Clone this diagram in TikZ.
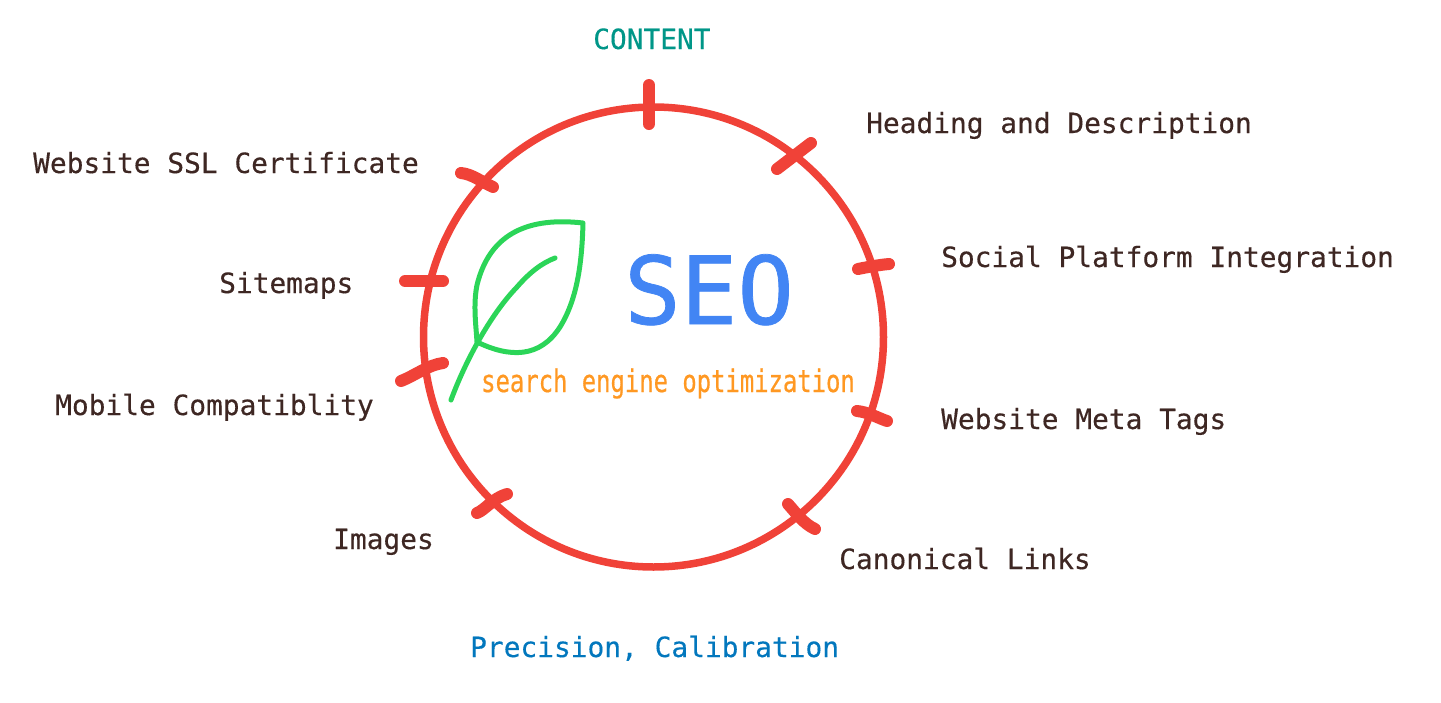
\documentclass[tikz,border=0pt]{standalone}
\usepackage{fontspec}
\setmonofont[FakeBold=0.35]{DejaVu Sans Mono}
\newfontfamily\bigmono[FakeBold=0.8]{DejaVu Sans Mono}
\newfontfamily\narrowmono[FakeStretch=0.77,FakeBold=0.5]{DejaVu Sans Mono}
\definecolor{ringred}{HTML}{F04238}
\definecolor{leafgreen}{HTML}{2BD558}
\definecolor{labelbrown}{HTML}{3E2723}
\definecolor{seoblue}{HTML}{4285F4}
\definecolor{subtextorange}{HTML}{FF9822}
\definecolor{headteal}{HTML}{009688}
\definecolor{footblue}{HTML}{0277BD}
\tikzset{
  ring/.style={draw=ringred, line width=7.5pt},
  tick/.style={draw=ringred, line width=12pt, line cap=round},
  leaf/.style={draw=leafgreen, line width=5pt, line cap=round, line join=round},
  label/.style={anchor=base west, inner sep=0pt, text=labelbrown, font=\ttfamily\fontsize{27.85}{32}\selectfont},
}
\begin{document}
\begin{tikzpicture}[x=1pt, y=-1pt]
    \useasboundingbox (0,0) rectangle (1441,702);

    % ring and its ticks
    \draw [ring] (653.5,337) circle [radius=230];
    \draw [tick] (649,85) -- (649,124);
    \draw [tick] (777,169) -- (811,143);
    \draw [tick] (858,269) .. controls (868,267) and (878,265) .. (889,264);
    \draw [tick] (857,411) .. controls (868,412) and (878,418) .. (887,421);
    \draw [tick] (788,504) .. controls (796,513) and (804,524) .. (815,529);
    \draw [tick] (477,513) .. controls (485,510) and (493,498) .. (507,494);
    \draw [tick] (401,381) .. controls (416,375) and (428,365) .. (443,363);
    \draw [tick] (405,281) -- (443,281);
    \draw [tick] (461,173) .. controls (472,174) and (482,182) .. (493,187);

    % leaf
    \draw [leaf] (583,223) .. controls (530,217) and (490,232) .. (477,285)
      .. controls (473,305) and (476,325) .. (477,342)
      .. controls (510,358) and (540,358) .. (560,327)
      .. controls (578,298) and (582,260) .. (583,223) -- cycle;
    \draw [leaf] (451,400) .. controls (465,362) and (490,315) .. (517,287)
      .. controls (530,272) and (542,263) .. (555,258);

    % texts
    \node [anchor=base west, inner sep=0pt, text=seoblue, font=\bigmono\fontsize{94}{100}\selectfont] (seo) at (624,324) {SEO};
    \node [anchor=base west, inner sep=0pt, text=subtextorange, font=\narrowmono\fontsize{31}{34}\selectfont] (subtext) at (481,392) {search engine optimization};
    \node [label, text=headteal] (content) at (593,49) {CONTENT};
    \node [label] (heading) at (866,133) {Heading and Description};
    \node [label] (social) at (941,267) {Social Platform Integration};
    \node [label] (meta) at (941,429) {Website Meta Tags};
    \node [label] (canonical) at (839,569) {Canonical Links};
    \node [label, text=footblue] (precision) at (470,657) {Precision, Calibration};
    \node [label] (images) at (333,549) {Images};
    \node [label] (mobile) at (55,415) {Mobile Compatiblity};
    \node [label] (sitemaps) at (219,293) {Sitemaps};
    \node [label] (ssl) at (33,173) {Website SSL Certificate};
\end{tikzpicture}
\end{document}
